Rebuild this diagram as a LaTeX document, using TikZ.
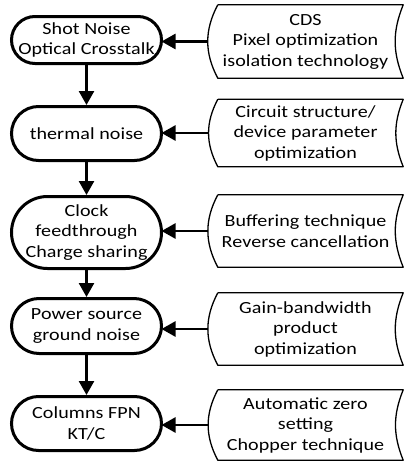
\documentclass[tikz,border=0pt]{standalone}
\usepackage{fontspec}
\setmainfont{Carlito}[FakeStretch=1.18, LetterSpace=0.5]
\usetikzlibrary{arrows.meta}

\tikzset{
  noise/.style={draw, line width=3pt, rectangle, minimum width=150pt,
    minimum height=#1, rounded corners=#1/2,
    inner sep=0pt, align=center, font=\fontsize{17}{20.5}\selectfont},
  remedy/.style={rectangle, minimum width=195pt, minimum height=#1, inner sep=0pt,
    align=center, font=\fontsize{17}{20.5}\selectfont},
  arr/.style={line width=2.5pt, -{Triangle[length=14pt,width=15pt]}},
}

\begin{document}
\begin{tikzpicture}[x=1pt,y=1pt,yscale=-1]
  \useasboundingbox (0,0) rectangle (404,463);

  % noise sources
  \node[noise=47pt] (t1) at (86.5,40) {Shot Noise\\Optical Crosstalk};
  \node[noise=54pt] (t2) at (86.5,133.5) {thermal noise};
  \node[noise=72pt] (t3) at (86.5,232.5) {Clock\\feedthrough\\Charge sharing};
  \node[noise=55pt] (t4) at (86.5,326) {Power source\\ground noise};
  \node[noise=54pt] (t5) at (86.5,423.5) {Columns FPN\\KT/C};

  % remedies
  \node[remedy=73pt] (s1) at (305.5,41.5) {CDS\\Pixel optimization\\isolation technology};
  \node[remedy=67pt] (s2) at (305.5,133) {Circuit structure/\\device parameter\\optimization};
  \node[remedy=72pt] (s3) at (305.5,231) {Buffering technique\\Reverse cancellation};
  \node[remedy=72pt] (s4) at (305.5,329) {Gain-bandwidth\\product\\optimization};
  \node[remedy=70pt] (s5) at (305.5,425) {Automatic zero\\setting\\Chopper technique};

  % stored data outlines
  \foreach \s in {s1,s2,s3,s4,s5}
    \draw[line width=1.3pt, line join=round]
      ([xshift=10pt]\s.north west) -- (\s.north east) to[bend left=22] (\s.south east)
      -- ([xshift=10pt]\s.south west) to[bend right=28] ([xshift=10pt]\s.north west);

  % flow
  \foreach \a/\b in {t1/t2,t2/t3,t3/t4,t4/t5}
    \draw[arr] (\a) -- (\b);
  \foreach \i in {1,...,5}
    \draw[arr, shorten >=-1.5pt] (s\i.west) -- (t\i.east |- s\i.west);
\end{tikzpicture}
\end{document}
